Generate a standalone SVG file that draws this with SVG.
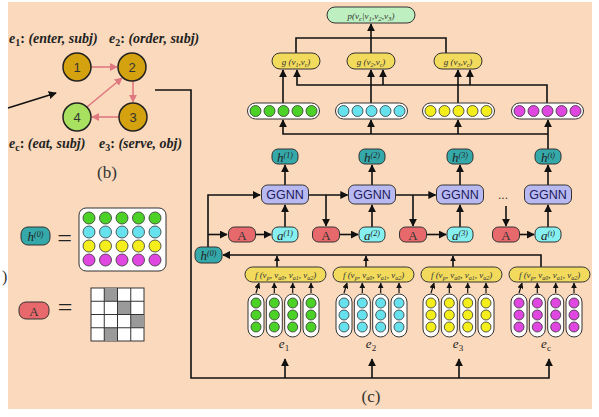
<svg xmlns="http://www.w3.org/2000/svg" width="599" height="417" viewBox="0 0 599 417">
<defs>
<marker id="ah" viewBox="0 0 10 10" refX="9" refY="5" markerWidth="8" markerHeight="8" markerUnits="userSpaceOnUse" orient="auto"><path d="M0,0 L10,5 L0,10 z" fill="#111"/></marker>
<marker id="ahs" viewBox="0 0 10 10" refX="9" refY="5" markerWidth="6" markerHeight="6" markerUnits="userSpaceOnUse" orient="auto"><path d="M0,0 L10,5 L0,10 z" fill="#111"/></marker>
<marker id="ahp" viewBox="0 0 10 10" refX="9" refY="5" markerWidth="8" markerHeight="8" markerUnits="userSpaceOnUse" orient="auto"><path d="M0,0 L10,5 L0,10 z" fill="#E07880"/></marker>
</defs>
<style>
.ln{fill:none;stroke:#111;stroke-width:1.6}
.lns{fill:none;stroke:#111;stroke-width:1.2}
.pk{fill:none;stroke:#E07880;stroke-width:1.6}
.bx{stroke:#333;stroke-width:1}
.gg{fill:#B9B9F2}
.hb{fill:#35A9AA}
.ab{fill:#86EFEF}
.Ab{fill:#E8696B}
.yb{fill:#F2DA5C}
.cap{fill:#fff;stroke:#333;stroke-width:1}
.cg{fill:#4CD226;stroke:#333;stroke-width:0.8}
.cc{fill:#66E2EE;stroke:#333;stroke-width:0.8}
.cy{fill:#F4EE1C;stroke:#333;stroke-width:0.8}
.cm{fill:#E046E0;stroke:#333;stroke-width:0.8}
.sv{font-family:"Liberation Serif",serif}
.ss{font-family:"Liberation Sans",sans-serif}
.it{font-style:italic}
.lbl{font-family:"Liberation Serif",serif;font-weight:bold;font-size:14px;fill:#222}
.ggt{font-family:"Liberation Sans",sans-serif;font-size:12.5px;fill:#1c1c5c;text-anchor:middle}
.bt{font-family:"Liberation Serif",serif;font-style:italic;font-size:13px;fill:#222;text-anchor:middle}
.ft{font-family:"Liberation Serif",serif;font-style:italic;font-size:9px;fill:#333;text-anchor:middle}
</style>
<rect x="0" y="0" width="599" height="417" fill="#fff"/>
<rect x="8" y="2" width="584" height="407" fill="#FAD9BC"/>

<!-- graph (b) -->
<g id="b-edges">
<path class="pk" d="M91,67 L117,67" marker-end="url(#ahp)"/>
<path class="pk" d="M133,81 L133,102" marker-end="url(#ahp)"/>
<path class="pk" d="M119,117 L92,117" marker-end="url(#ahp)"/>
<path class="pk" d="M87,107 L122,78" marker-end="url(#ahp)"/>
</g>
<g id="n1"><circle cx="77" cy="67" r="14" fill="#D4A10F" stroke="#222" stroke-width="1.5"/><text x="77" y="72" class="ss" font-size="13" text-anchor="middle" fill="#333">1</text></g>
<g id="n2"><circle cx="132" cy="67" r="14" fill="#D4A10F" stroke="#222" stroke-width="1.5"/><text x="132" y="72" class="ss" font-size="13" text-anchor="middle" fill="#333">2</text></g>
<g id="n3"><circle cx="133" cy="117" r="14" fill="#D4A10F" stroke="#222" stroke-width="1.5"/><text x="133" y="122" class="ss" font-size="13" text-anchor="middle" fill="#333">3</text></g>
<g id="n4"><circle cx="77" cy="117" r="14" fill="#A8E060" stroke="#222" stroke-width="1.5"/><text x="77" y="122" class="ss" font-size="13" text-anchor="middle" fill="#333">4</text></g>
<g id="b-labels">
<text class="lbl" x="9" y="43"><tspan class="it">e</tspan><tspan dy="3" font-size="10">1</tspan><tspan dy="-3">: </tspan><tspan class="it">(enter, subj)</tspan></text>
<text class="lbl" x="109" y="43"><tspan class="it">e</tspan><tspan dy="3" font-size="10">2</tspan><tspan dy="-3">: </tspan><tspan class="it">(order, subj)</tspan></text>
<text class="lbl" x="9" y="148"><tspan class="it">e</tspan><tspan dy="3" font-size="10">c</tspan><tspan dy="-3">: </tspan><tspan class="it">(eat, subj)</tspan></text>
<text class="lbl" x="99" y="148"><tspan class="it">e</tspan><tspan dy="3" font-size="10">3</tspan><tspan dy="-3">: </tspan><tspan class="it">(serve, obj)</tspan></text>
<text class="sv" x="107" y="178" font-size="17" text-anchor="middle" fill="#333">(b)</text>
<text class="sv" x="2" y="282" font-size="16" fill="#333">)</text>
<text class="sv" x="371" y="402" font-size="17" text-anchor="middle" fill="#333">(c)</text>
</g>

<!-- legend -->
<g id="leg-h">
<rect class="bx hb" x="21" y="227" width="29" height="18" rx="7"/>
<text class="bt" x="35.5" y="240.5"><tspan>h</tspan><tspan dy="-4" font-size="8">(0)</tspan></text>
<text class="sv" x="64.5" y="247" font-size="26" text-anchor="middle" fill="#222">=</text>
<rect x="79" y="208" width="87" height="63" rx="7" fill="#fff" stroke="#333" stroke-width="1"/>
<g class="cg"><circle cx="89" cy="218" r="6"/><circle cx="105.5" cy="218" r="6"/><circle cx="122" cy="218" r="6"/><circle cx="138.5" cy="218" r="6"/><circle cx="155" cy="218" r="6"/></g>
<g class="cc"><circle cx="89" cy="232" r="6"/><circle cx="105.5" cy="232" r="6"/><circle cx="122" cy="232" r="6"/><circle cx="138.5" cy="232" r="6"/><circle cx="155" cy="232" r="6"/></g>
<g class="cy"><circle cx="89" cy="246" r="6"/><circle cx="105.5" cy="246" r="6"/><circle cx="122" cy="246" r="6"/><circle cx="138.5" cy="246" r="6"/><circle cx="155" cy="246" r="6"/></g>
<g class="cm"><circle cx="89" cy="260" r="6"/><circle cx="105.5" cy="260" r="6"/><circle cx="122" cy="260" r="6"/><circle cx="138.5" cy="260" r="6"/><circle cx="155" cy="260" r="6"/></g>
</g>
<g id="leg-A">
<rect class="bx Ab" x="19" y="302" width="30" height="17" rx="7"/>
<text class="sv" x="34" y="315.5" font-size="13" text-anchor="middle" fill="#333">A</text>
<text class="sv" x="65" y="316" font-size="26" text-anchor="middle" fill="#222">=</text>
<rect x="91" y="288" width="53" height="53" fill="#fff" stroke="#333" stroke-width="1"/>
<g fill="#9a9a9a"><rect x="104.25" y="288" width="13.25" height="13.25"/><rect x="117.5" y="301.25" width="13.25" height="13.25"/><rect x="130.75" y="314.5" width="13.25" height="13.25"/><rect x="104.25" y="327.75" width="13.25" height="13.25"/></g>
<path d="M104.25,288V341M117.5,288V341M130.75,288V341M91,301.25H144M91,314.5H144M91,327.75H144" stroke="#333" stroke-width="1" fill="none"/>
</g>

<!-- connectors -->
<g id="connectors">
<path class="ln" d="M8,108 L56,93" marker-end="url(#ah)"/>
<path class="ln" d="M155,90 H191 V378 H549 V359" marker-end="url(#ah)"/>
<path class="ln" d="M285,378 V359" marker-end="url(#ah)"/>
<path class="ln" d="M372,378 V359" marker-end="url(#ah)"/>
<path class="ln" d="M459,378 V359" marker-end="url(#ah)"/>
<g class="lns">
<path d="M256,293 L259,283" marker-end="url(#ahs)"/><path d="M274.3,293 V283" marker-end="url(#ahs)"/><path d="M292.7,293 V283" marker-end="url(#ahs)"/><path d="M311,293 V283" marker-end="url(#ahs)"/>
<path d="M344,293 L347,283" marker-end="url(#ahs)"/><path d="M362.3,293 V283" marker-end="url(#ahs)"/><path d="M380.7,293 V283" marker-end="url(#ahs)"/><path d="M399,293 V283" marker-end="url(#ahs)"/>
<path d="M431,293 L434,283" marker-end="url(#ahs)"/><path d="M449.3,293 V283" marker-end="url(#ahs)"/><path d="M467.7,293 V283" marker-end="url(#ahs)"/><path d="M486,293 V283" marker-end="url(#ahs)"/>
<path d="M519,293 L522,283" marker-end="url(#ahs)"/><path d="M537.3,293 V283" marker-end="url(#ahs)"/><path d="M555.7,293 V283" marker-end="url(#ahs)"/><path d="M574,293 V283" marker-end="url(#ahs)"/>
</g>
<path class="ln" d="M541,267 V255 H223" marker-end="url(#ah)"/>
<path class="ln" d="M277,267 V256" marker-end="url(#ahs)"/>
<path class="ln" d="M366,267 V256" marker-end="url(#ahs)"/>
<path class="ln" d="M453,267 V256" marker-end="url(#ahs)"/>
<path class="ln" d="M208,247 V195 H260" marker-end="url(#ah)"/>
<path class="ln" d="M208,234.5 H227" marker-end="url(#ah)"/>
<path class="ln" d="M255.5,234.5 H271" marker-end="url(#ah)"/>
<path class="ln" d="M339.5,234.5 H358" marker-end="url(#ah)"/>
<path class="ln" d="M426.5,234.5 H446" marker-end="url(#ah)"/>
<path class="ln" d="M519.5,234.5 H534" marker-end="url(#ah)"/>
<path class="ln" d="M285,227 V205" marker-end="url(#ah)"/>
<path class="ln" d="M372,227 V205" marker-end="url(#ah)"/>
<path class="ln" d="M460,227 V205" marker-end="url(#ah)"/>
<path class="ln" d="M548,227 V205" marker-end="url(#ah)"/>
<path class="ln" d="M308.5,195 H347.5" marker-end="url(#ah)"/>
<path class="ln" d="M326,195 V226" marker-end="url(#ah)"/>
<path class="ln" d="M395.5,195 H435.5" marker-end="url(#ah)"/>
<path class="ln" d="M413,195 V226" marker-end="url(#ah)"/>
<path class="ln" d="M506,206 V226" marker-end="url(#ah)"/>
<path class="ln" d="M285,185 V165" marker-end="url(#ah)"/>
<path class="ln" d="M372,185 V165" marker-end="url(#ah)"/>
<path class="ln" d="M460,185 V165" marker-end="url(#ah)"/>
<path class="ln" d="M548,185 V165" marker-end="url(#ah)"/>
<path class="ln" d="M548,149 V120" marker-end="url(#ah)"/>
<path class="ln" d="M548,134 H283 V120" marker-end="url(#ah)"/>
<path class="ln" d="M371,134 V120" marker-end="url(#ah)"/>
<path class="ln" d="M458,134 V120" marker-end="url(#ah)"/>
<path class="ln" d="M283,103 V70" marker-end="url(#ah)"/>
<path class="ln" d="M371,103 V70" marker-end="url(#ah)"/>
<path class="ln" d="M458,103 V70" marker-end="url(#ah)"/>
<path class="ln" d="M547,103 V85 H297 V70" marker-end="url(#ah)"/>
<path class="ln" d="M383,85 V70" marker-end="url(#ah)"/>
<path class="ln" d="M470,85 V70" marker-end="url(#ah)"/>
<path class="ln" d="M296,53 V38 H446 V53"/>
<path class="ln" d="M371,53 V24" marker-end="url(#ah)"/>
</g>

<g id="p">
<rect class="bx" x="327" y="7" width="88" height="16" rx="8" fill="#BDEFC0"/>
<text class="ft" x="371" y="19" font-size="11.5"><tspan>p(v</tspan><tspan dy="2" font-size="7">c</tspan><tspan dy="-2">|v</tspan><tspan dy="2" font-size="7">1</tspan><tspan dy="-2">,v</tspan><tspan dy="2" font-size="7">2</tspan><tspan dy="-2">,v</tspan><tspan dy="2" font-size="7">3</tspan><tspan dy="-2">)</tspan></text>
</g>
<g id="g1"><rect class="bx yb" x="272" y="53" width="48" height="16" rx="8"/><text class="ft" x="296" y="64.5" font-size="9.5"><tspan>g (v</tspan><tspan dy="2" font-size="6">1</tspan><tspan dy="-2">,v</tspan><tspan dy="2" font-size="6">c</tspan><tspan dy="-2">)</tspan></text></g>
<g id="g2"><rect class="bx yb" x="347" y="53" width="48" height="16" rx="8"/><text class="ft" x="371" y="64.5" font-size="9.5"><tspan>g (v</tspan><tspan dy="2" font-size="6">2</tspan><tspan dy="-2">,v</tspan><tspan dy="2" font-size="6">c</tspan><tspan dy="-2">)</tspan></text></g>
<g id="g3"><rect class="bx yb" x="434" y="53" width="48" height="16" rx="8"/><text class="ft" x="458" y="64.5" font-size="9.5"><tspan>g (v</tspan><tspan dy="2" font-size="6">3</tspan><tspan dy="-2">,v</tspan><tspan dy="2" font-size="6">c</tspan><tspan dy="-2">)</tspan></text></g>

<g id="v1"><rect class="cap" x="247.5" y="103" width="72" height="16" rx="8"/><g class="cg"><circle cx="255.5" cy="111" r="5.5"/><circle cx="269.5" cy="111" r="5.5"/><circle cx="283.5" cy="111" r="5.5"/><circle cx="297.5" cy="111" r="5.5"/><circle cx="311.5" cy="111" r="5.5"/></g></g>
<g id="v2"><rect class="cap" x="335.5" y="103" width="72" height="16" rx="8"/><g class="cc"><circle cx="343.5" cy="111" r="5.5"/><circle cx="357.5" cy="111" r="5.5"/><circle cx="371.5" cy="111" r="5.5"/><circle cx="385.5" cy="111" r="5.5"/><circle cx="399.5" cy="111" r="5.5"/></g></g>
<g id="v3"><rect class="cap" x="422.5" y="103" width="72" height="16" rx="8"/><g class="cy"><circle cx="430.5" cy="111" r="5.5"/><circle cx="444.5" cy="111" r="5.5"/><circle cx="458.5" cy="111" r="5.5"/><circle cx="472.5" cy="111" r="5.5"/><circle cx="486.5" cy="111" r="5.5"/></g></g>
<g id="v4"><rect class="cap" x="511.5" y="103" width="72" height="16" rx="8"/><g class="cm"><circle cx="519.5" cy="111" r="5.5"/><circle cx="533.5" cy="111" r="5.5"/><circle cx="547.5" cy="111" r="5.5"/><circle cx="561.5" cy="111" r="5.5"/><circle cx="575.5" cy="111" r="5.5"/></g></g>

<g id="h1"><rect class="bx hb" x="272" y="149" width="26" height="15" rx="6"/><text class="bt" x="285" y="161.5"><tspan>h</tspan><tspan dy="-4" font-size="8">(1)</tspan></text></g>
<g id="h2"><rect class="bx hb" x="359" y="149" width="26" height="15" rx="6"/><text class="bt" x="372" y="161.5"><tspan>h</tspan><tspan dy="-4" font-size="8">(2)</tspan></text></g>
<g id="h3"><rect class="bx hb" x="447" y="149" width="26" height="15" rx="6"/><text class="bt" x="460" y="161.5"><tspan>h</tspan><tspan dy="-4" font-size="8">(3)</tspan></text></g>
<g id="h4"><rect class="bx hb" x="535" y="149" width="26" height="15" rx="6"/><text class="bt" x="548" y="161.5"><tspan>h</tspan><tspan dy="-4" font-size="8">(t)</tspan></text></g>
<g id="h0"><rect class="bx hb" x="195" y="247" width="27" height="16" rx="6"/><text class="bt" x="208.5" y="260"><tspan>h</tspan><tspan dy="-4" font-size="8">(0)</tspan></text></g>

<g id="gg1"><rect class="bx gg" x="261.5" y="185" width="47" height="19" rx="6"/><text class="ggt" x="285" y="199">GGNN</text></g>
<g id="gg2"><rect class="bx gg" x="348.5" y="185" width="47" height="19" rx="6"/><text class="ggt" x="372" y="199">GGNN</text></g>
<g id="gg3"><rect class="bx gg" x="436.5" y="185" width="47" height="19" rx="6"/><text class="ggt" x="460" y="199">GGNN</text></g>
<g id="gg4"><rect class="bx gg" x="524.5" y="185" width="47" height="19" rx="6"/><text class="ggt" x="548" y="199">GGNN</text></g>
<text class="ss" x="503" y="199" font-size="12" text-anchor="middle" fill="#333">...</text>

<g id="a1"><rect class="bx ab" x="272" y="227" width="26" height="15" rx="6"/><text class="bt" x="285" y="239.5"><tspan>a</tspan><tspan dy="-4" font-size="8">(1)</tspan></text></g>
<g id="a2"><rect class="bx ab" x="359" y="227" width="26" height="15" rx="6"/><text class="bt" x="372" y="239.5"><tspan>a</tspan><tspan dy="-4" font-size="8">(2)</tspan></text></g>
<g id="a3"><rect class="bx ab" x="447" y="227" width="26" height="15" rx="6"/><text class="bt" x="460" y="239.5"><tspan>a</tspan><tspan dy="-4" font-size="8">(3)</tspan></text></g>
<g id="a4"><rect class="bx ab" x="535" y="227" width="26" height="15" rx="6"/><text class="bt" x="548" y="239.5"><tspan>a</tspan><tspan dy="-4" font-size="8">(t)</tspan></text></g>

<g id="A1"><rect class="bx Ab" x="228.5" y="227" width="27" height="15" rx="6"/><text class="sv" x="242" y="239.5" font-size="13" text-anchor="middle" fill="#333">A</text></g>
<g id="A2"><rect class="bx Ab" x="312.5" y="227" width="27" height="15" rx="6"/><text class="sv" x="326" y="239.5" font-size="13" text-anchor="middle" fill="#333">A</text></g>
<g id="A3"><rect class="bx Ab" x="399.5" y="227" width="27" height="15" rx="6"/><text class="sv" x="413" y="239.5" font-size="13" text-anchor="middle" fill="#333">A</text></g>
<g id="A4"><rect class="bx Ab" x="492.5" y="227" width="27" height="15" rx="6"/><text class="sv" x="506" y="239.5" font-size="13" text-anchor="middle" fill="#333">A</text></g>

<g id="f1"><rect class="bx yb" x="245" y="267" width="81" height="15" rx="7.5"/><text class="ft" x="285.5" y="278"><tspan>f (v</tspan><tspan dy="2" font-size="6">p</tspan><tspan dy="-2">, v</tspan><tspan dy="2" font-size="6">a0</tspan><tspan dy="-2">, v</tspan><tspan dy="2" font-size="6">a1</tspan><tspan dy="-2">, v</tspan><tspan dy="2" font-size="6">a2</tspan><tspan dy="-2">)</tspan></text></g>
<g id="f2"><rect class="bx yb" x="333" y="267" width="81" height="15" rx="7.5"/><text class="ft" x="373.5" y="278"><tspan>f (v</tspan><tspan dy="2" font-size="6">p</tspan><tspan dy="-2">, v</tspan><tspan dy="2" font-size="6">a0</tspan><tspan dy="-2">, v</tspan><tspan dy="2" font-size="6">a1</tspan><tspan dy="-2">, v</tspan><tspan dy="2" font-size="6">a2</tspan><tspan dy="-2">)</tspan></text></g>
<g id="f3"><rect class="bx yb" x="421" y="267" width="81" height="15" rx="7.5"/><text class="ft" x="461.5" y="278"><tspan>f (v</tspan><tspan dy="2" font-size="6">p</tspan><tspan dy="-2">, v</tspan><tspan dy="2" font-size="6">a0</tspan><tspan dy="-2">, v</tspan><tspan dy="2" font-size="6">a1</tspan><tspan dy="-2">, v</tspan><tspan dy="2" font-size="6">a2</tspan><tspan dy="-2">)</tspan></text></g>
<g id="f4"><rect class="bx yb" x="509" y="267" width="81" height="15" rx="7.5"/><text class="ft" x="549.5" y="278"><tspan>f (v</tspan><tspan dy="2" font-size="6">p</tspan><tspan dy="-2">, v</tspan><tspan dy="2" font-size="6">a0</tspan><tspan dy="-2">, v</tspan><tspan dy="2" font-size="6">a1</tspan><tspan dy="-2">, v</tspan><tspan dy="2" font-size="6">a2</tspan><tspan dy="-2">)</tspan></text></g>

<g id="e1caps">
<rect class="cap" x="248" y="294" width="16" height="43" rx="8"/><rect class="cap" x="266.3" y="294" width="16" height="43" rx="8"/><rect class="cap" x="284.7" y="294" width="16" height="43" rx="8"/><rect class="cap" x="303" y="294" width="16" height="43" rx="8"/>
<g class="cg"><circle cx="256" cy="303" r="5"/><circle cx="256" cy="315" r="5"/><circle cx="256" cy="327" r="5"/><circle cx="274.3" cy="303" r="5"/><circle cx="274.3" cy="315" r="5"/><circle cx="274.3" cy="327" r="5"/><circle cx="292.7" cy="303" r="5"/><circle cx="292.7" cy="315" r="5"/><circle cx="292.7" cy="327" r="5"/><circle cx="311" cy="303" r="5"/><circle cx="311" cy="315" r="5"/><circle cx="311" cy="327" r="5"/></g>
<text class="bt" x="284" y="348" font-size="14"><tspan>e</tspan><tspan dy="3" font-size="9" font-style="normal">1</tspan></text>
</g>
<g id="e2caps">
<rect class="cap" x="336" y="294" width="16" height="43" rx="8"/><rect class="cap" x="354.3" y="294" width="16" height="43" rx="8"/><rect class="cap" x="372.7" y="294" width="16" height="43" rx="8"/><rect class="cap" x="391" y="294" width="16" height="43" rx="8"/>
<g class="cc"><circle cx="344" cy="303" r="5"/><circle cx="344" cy="315" r="5"/><circle cx="344" cy="327" r="5"/><circle cx="362.3" cy="303" r="5"/><circle cx="362.3" cy="315" r="5"/><circle cx="362.3" cy="327" r="5"/><circle cx="380.7" cy="303" r="5"/><circle cx="380.7" cy="315" r="5"/><circle cx="380.7" cy="327" r="5"/><circle cx="399" cy="303" r="5"/><circle cx="399" cy="315" r="5"/><circle cx="399" cy="327" r="5"/></g>
<text class="bt" x="371" y="348" font-size="14"><tspan>e</tspan><tspan dy="3" font-size="9" font-style="normal">2</tspan></text>
</g>
<g id="e3caps">
<rect class="cap" x="423" y="294" width="16" height="43" rx="8"/><rect class="cap" x="441.3" y="294" width="16" height="43" rx="8"/><rect class="cap" x="459.7" y="294" width="16" height="43" rx="8"/><rect class="cap" x="478" y="294" width="16" height="43" rx="8"/>
<g class="cy"><circle cx="431" cy="303" r="5"/><circle cx="431" cy="315" r="5"/><circle cx="431" cy="327" r="5"/><circle cx="449.3" cy="303" r="5"/><circle cx="449.3" cy="315" r="5"/><circle cx="449.3" cy="327" r="5"/><circle cx="467.7" cy="303" r="5"/><circle cx="467.7" cy="315" r="5"/><circle cx="467.7" cy="327" r="5"/><circle cx="486" cy="303" r="5"/><circle cx="486" cy="315" r="5"/><circle cx="486" cy="327" r="5"/></g>
<text class="bt" x="458" y="348" font-size="14"><tspan>e</tspan><tspan dy="3" font-size="9" font-style="normal">3</tspan></text>
</g>
<g id="e4caps">
<rect class="cap" x="511" y="294" width="16" height="43" rx="8"/><rect class="cap" x="529.3" y="294" width="16" height="43" rx="8"/><rect class="cap" x="547.7" y="294" width="16" height="43" rx="8"/><rect class="cap" x="566" y="294" width="16" height="43" rx="8"/>
<g class="cm"><circle cx="519" cy="303" r="5"/><circle cx="519" cy="315" r="5"/><circle cx="519" cy="327" r="5"/><circle cx="537.3" cy="303" r="5"/><circle cx="537.3" cy="315" r="5"/><circle cx="537.3" cy="327" r="5"/><circle cx="555.7" cy="303" r="5"/><circle cx="555.7" cy="315" r="5"/><circle cx="555.7" cy="327" r="5"/><circle cx="574" cy="303" r="5"/><circle cx="574" cy="315" r="5"/><circle cx="574" cy="327" r="5"/></g>
<text class="bt" x="546" y="348" font-size="14"><tspan>e</tspan><tspan dy="3" font-size="9" font-style="normal">c</tspan></text>
</g>
</svg>
